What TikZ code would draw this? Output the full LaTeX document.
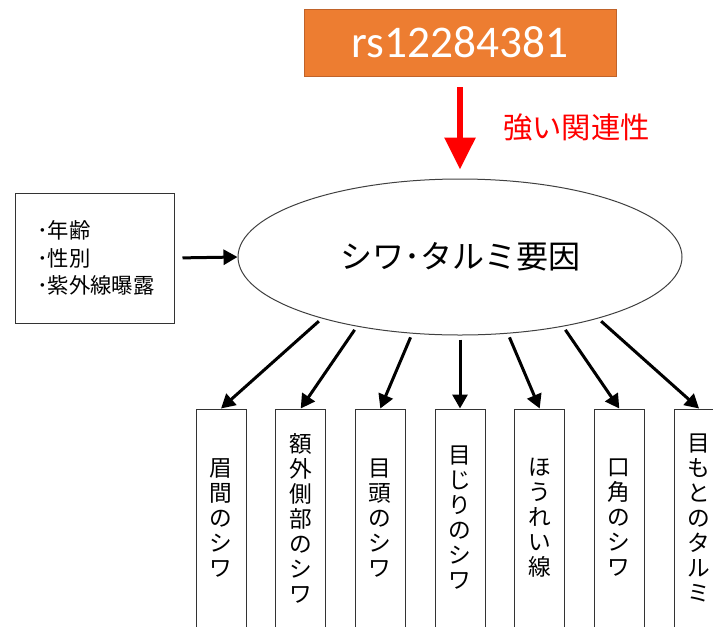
\documentclass[tikz,border=0pt]{standalone}
\usepackage{fontspec}
\setmainfont{Noto Sans CJK JP}
\newfontfamily\snpfont{Carlito}
\usepackage{tikz}
\usetikzlibrary{shapes.geometric,arrows.meta}
\definecolor{snporange}{HTML}{ED7D31}
\definecolor{snpedge}{HTML}{C0632A}
\tikzset{
  factor/.style={ellipse, draw=black!75, line width=0.75pt, minimum width=333pt, minimum height=117pt, inner sep=0pt, font=\fontsize{24pt}{28pt}\selectfont},
  snpbox/.style={rectangle, draw=snpedge, fill=snporange, line width=0.5pt, minimum width=234pt, minimum height=50.25pt, text=white, font=\snpfont\fontsize{34pt}{38pt}\selectfont},
  infobox/.style={rectangle, draw=black!80, line width=0.75pt, text width=86.25pt, inner xsep=16.5pt, minimum height=97.5pt, align=left, font=\fontsize{16pt}{20.6pt}\selectfont},
  wbox/.style={rectangle, draw=black!80, line width=0.75pt, minimum width=37.5pt, minimum height=163.5pt, inner sep=0pt, align=center, font=\fontsize{17pt}{18.75pt}\selectfont},
  arr/.style={-{Triangle[length=10.5pt,width=11.25pt]}, line width=2.25pt},
  strong/.style={-{Triangle[length=24pt,width=22.5pt]}, line width=4.5pt, draw=red}
}
\newcommand{\wrinkle}[3] {\node at (#1,518) (#2) [wbox] {#3};}
\newcommand{\wlink}[2] {\draw [arr, shorten <=3pt] (#1) -- (#2.north);}
\begin{document}
\begin{tikzpicture}[x=0.75pt,y=-0.75pt]
\useasboundingbox (0,0) rectangle (713,626);
\clip (0,0) rectangle (713,626);

\node at (460,42.5) (snp) [snpbox] {rs12284381};
\node at (460,257) (ell) [factor] {シワ･タルミ要因};
\node at (94.5,258) (info) [infobox] {･年齢\\･性別\\･紫外線曝露};

\draw [strong, shorten <=8.25pt, shorten >=6.75pt] (snp.south) -- (ell.north)
  node [midway, right=30pt, inner sep=0pt, text=red, font=\fontsize{22pt}{26pt}\selectfont] {強い関連性};
\draw [arr, shorten <=6pt] (info.east) -- (ell.west);

\wrinkle {221}{brow}{眉\\間\\の\\シ\\ワ}
\wrinkle {300.7}{temple}{額\\外\\側\\部\\の\\シ\\ワ}
\wrinkle {380.3}{inner}{目\\頭\\の\\シ\\ワ}
\wrinkle {460}{outer}{目\\じ\\り\\の\\シ\\ワ}
\wrinkle {539.7}{naso}{ほ\\う\\れ\\い\\線}
\wrinkle {619.3}{mouth}{口\\角\\の\\シ\\ワ}
\wrinkle {699}{sag}{目\\も\\と\\の\\タ\\ル\\ミ}

\wlink {ell.204}{brow}
\wlink {ell.214}{temple}
\wlink {ell.238}{inner}
\wlink {ell.270}{outer}
\wlink {ell.302}{naso}
\wlink {ell.326}{mouth}
\wlink {ell.336}{sag}

\end{tikzpicture}
\end{document}
